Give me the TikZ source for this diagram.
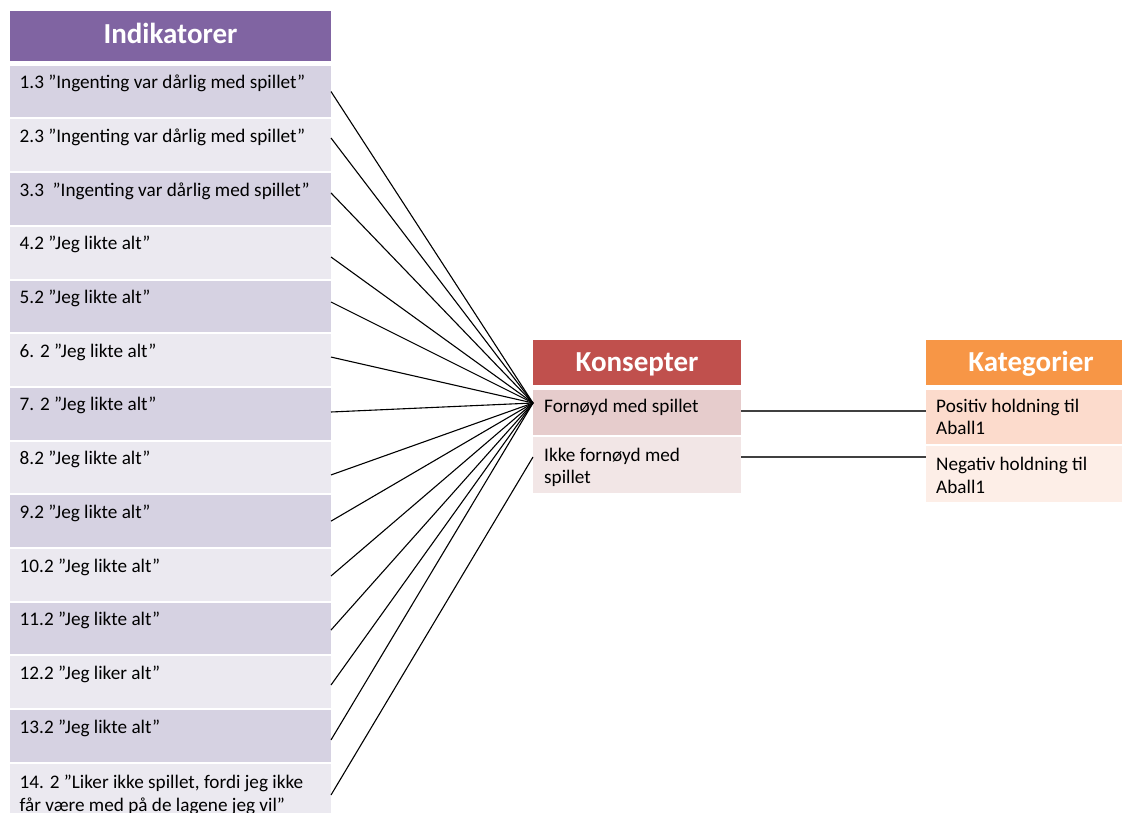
\documentclass[tikz,border=0pt]{standalone}
\usepackage{fontspec}
\setmainfont{Carlito}
\definecolor{indhead}{HTML}{8064A2}
\definecolor{indodd}{HTML}{D6D2E2}
\definecolor{indeven}{HTML}{EBE9F0}
\definecolor{konhead}{HTML}{C0504D}
\definecolor{konodd}{HTML}{E6CCCC}
\definecolor{koneven}{HTML}{F2E6E6}
\definecolor{kathead}{HTML}{F79646}
\definecolor{katodd}{HTML}{FCDBCC}
\definecolor{kateven}{HTML}{FDEEE7}
\begin{document}
\begin{tikzpicture}[x=1pt,y=-1pt,
  cell/.style={inner sep=0pt,outer sep=0pt,anchor=north west,draw=none},
  hdrtext/.style={inner sep=0pt,anchor=base,text=white,font=\bfseries\fontsize{29}{35}\selectfont},
  bodytext/.style={inner sep=0pt,anchor=base west,font=\fontsize{19.2}{23}\selectfont},
  fan/.style={line width=1.1pt,black},
  link/.style={line width=1.1pt,black!75}
]
\useasboundingbox (0,0) rectangle (1122,813);

% Indikatorer column
\node[cell,fill=indhead,minimum width=321pt,minimum height=50pt] (ind) at (10,11) {};
\node[hdrtext] (indt) at ([yshift=-8pt]ind.center) {Indikatorer};
\foreach \i in {1,...,14}{
  \pgfmathsetmacro\rtop{65.7+(\i-1)*53.7}
  \ifodd\i
    \node[cell,fill=indodd,minimum width=321pt,minimum height=51.7pt] (r\i) at (10,\rtop) {};
  \else
    \node[cell,fill=indeven,minimum width=321pt,minimum height=51.7pt] (r\i) at (10,\rtop) {};
  \fi
}
\node[bodytext] (t1) at ([xshift=9.5pt,yshift=-23pt]r1.north west) {1.3 ”Ingenting var dårlig med spillet”};
\node[bodytext] (t2) at ([xshift=9.5pt,yshift=-23pt]r2.north west) {2.3 ”Ingenting var dårlig med spillet”};
\node[bodytext] (t3) at ([xshift=9.5pt,yshift=-23pt]r3.north west) {3.3\ \ ”Ingenting var dårlig med spillet”};
\node[bodytext] (t4) at ([xshift=9.5pt,yshift=-23pt]r4.north west) {4.2 ”Jeg likte alt”};
\node[bodytext] (t5) at ([xshift=9.5pt,yshift=-23pt]r5.north west) {5.2 ”Jeg likte alt”};
\node[bodytext] (t6) at ([xshift=9.5pt,yshift=-23pt]r6.north west) {6. 2 ”Jeg likte alt”};
\node[bodytext] (t7) at ([xshift=9.5pt,yshift=-23pt]r7.north west) {7. 2 ”Jeg likte alt”};
\node[bodytext] (t8) at ([xshift=9.5pt,yshift=-23pt]r8.north west) {8.2 ”Jeg likte alt”};
\node[bodytext] (t9) at ([xshift=9.5pt,yshift=-23pt]r9.north west) {9.2 ”Jeg likte alt”};
\node[bodytext] (t10) at ([xshift=9.5pt,yshift=-23pt]r10.north west) {10.2 ”Jeg likte alt”};
\node[bodytext] (t11) at ([xshift=9.5pt,yshift=-23pt]r11.north west) {11.2 ”Jeg likte alt”};
\node[bodytext] (t12) at ([xshift=9.5pt,yshift=-23pt]r12.north west) {12.2 ”Jeg liker alt”};
\node[bodytext] (t13) at ([xshift=9.5pt,yshift=-23pt]r13.north west) {13.2 ”Jeg likte alt”};
\node[bodytext] (t14a) at ([xshift=9.5pt,yshift=-25pt]r14.north west) {14. 2 ”Liker ikke spillet, fordi jeg ikke};
\node[bodytext] (t14b) at ([xshift=9.5pt,yshift=-47.5pt]r14.north west) {får være med på de lagene jeg vil”};

% Konsepter column
\node[cell,fill=konhead,minimum width=208pt,minimum height=45pt] (kon) at (533,339.5) {};
\node[hdrtext] (kont) at ([yshift=-9.7pt]kon.center) {Konsepter};
\node[cell,fill=konodd,minimum width=208pt,minimum height=45pt] (forn) at (533,390) {};
\node[cell,fill=koneven,minimum width=208pt,minimum height=56pt] (ikke) at (533,437) {};
\node[bodytext] (fornt) at ([xshift=11pt,yshift=-22pt]forn.north west) {Fornøyd med spillet};
\node[bodytext] (ikket1) at ([xshift=11pt,yshift=-24.5pt]ikke.north west) {Ikke fornøyd med};
\node[bodytext] (ikket2) at ([xshift=11pt,yshift=-46.5pt]ikke.north west) {spillet};

% Kategorier column
\node[cell,fill=kathead,minimum width=196pt,minimum height=44.5pt] (kat) at (926,340) {};
\node[hdrtext] (katt) at ([xshift=7pt,yshift=-9.45pt]kat.center) {Kategorier};
\node[cell,fill=katodd,minimum width=196pt,minimum height=54pt] (pos) at (926,390) {};
\node[cell,fill=kateven,minimum width=196pt,minimum height=56pt] (neg) at (926,446) {};
\node[bodytext] (post1) at ([xshift=10pt,yshift=-22pt]pos.north west) {Positiv holdning til};
\node[bodytext] (post2) at ([xshift=10pt,yshift=-44pt]pos.north west) {Aball1};
\node[bodytext] (negt1) at ([xshift=10pt,yshift=-24pt]neg.north west) {Negativ holdning til};
\node[bodytext] (negt2) at ([xshift=10pt,yshift=-47pt]neg.north west) {Aball1};

% Fan of connectors
\coordinate (hub) at ([yshift=9.5pt]forn.west);
\coordinate (ikkein) at ([yshift=8pt]ikke.west);
\foreach \i/\dy in {1/0,2/7.25,3/6,4/-4.35,5/4.35,6/3,7/1.75,8/-7.5,9/0,10/-1.15,11/-1.5,12/-2.75,13/-4}{
  \draw[fan] ([yshift=\dy pt]r\i.east) -- (hub);
}
\draw[fan] ([yshift=-5.35pt]r14.east) -- (ikkein);

% Konsepter to Kategorier
\coordinate (a1) at ([yshift=1.5pt]forn.east);
\coordinate (a2) at ([yshift=8pt]ikke.east);
\draw[link] (a1) -- (a1 -| pos.west);
\draw[link] (a2) -- (a2 -| neg.west);
\end{tikzpicture}
\end{document}
